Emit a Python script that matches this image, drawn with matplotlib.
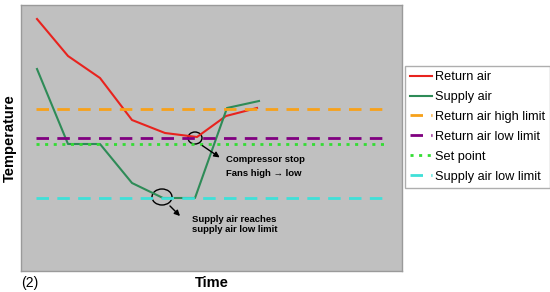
import matplotlib.pyplot as plt
from matplotlib.patches import Ellipse

plt.rcParams['font.family'] = ['Liberation Sans', 'DejaVu Sans']

# time axis and temperatures (arbitrary units)
return_t = [37, 68, 100, 132, 165, 197, 226, 257]
return_v = [252, 215, 193, 151, 138, 134, 155, 163]
supply_t = [37, 68, 100, 132, 163, 195, 227, 259]
supply_v = [202, 127, 127, 88, 73, 73, 163, 170]

limit_start, limit_end = 36, 387
return_high = 162
return_low = 133
set_point = 127
supply_low = 73

labels = ["Return air", "Supply air", "Return air high limit",
          "Return air low limit", "Set point", "Supply air low limit"]

fig = plt.figure(figsize=(5.5, 2.92), dpi=100)
ax = fig.add_axes([21/550, 21/292, 381/550, 266/292])
ax.set_facecolor("#c0c0c0")
for s in ax.spines.values():
    s.set_color("#9a9a9a")
    s.set_linewidth(1)

l1, = ax.plot(return_t, return_v, color="#e8231e", lw=1.5)
l2, = ax.plot(supply_t, supply_v, color="#2e8b57", lw=1.5)
l3, = ax.plot([limit_start, limit_end], [return_high]*2, color="#f7a11a", lw=2, dashes=(4.5, 3))
l4, = ax.plot([limit_start, limit_end], [return_low]*2, color="#800080", lw=2, dashes=(4.5, 3))
l5, = ax.plot([limit_start, limit_end], [set_point]*2, color="#33dd33", lw=2, dashes=(1.1, 2.0))
l6, = ax.plot([limit_start, limit_end], [supply_low]*2, color="#40e0d8", lw=2, dashes=(4.5, 3))

ax.set_xlim(21, 402)
ax.set_ylim(0, 266)
ax.set_xticks([])
ax.set_yticks([])

# annotations
ax.add_patch(Ellipse((195, 133), 14, 12, fill=False, ec="black", lw=1))
ax.add_patch(Ellipse((162, 74), 20, 16, fill=False, ec="black", lw=1))
ax.annotate("", xy=(222, 112), xytext=(200, 127),
            arrowprops=dict(arrowstyle="-|>", color="black", lw=1, mutation_scale=8))
ax.annotate("", xy=(182, 53), xytext=(168, 67),
            arrowprops=dict(arrowstyle="-|>", color="black", lw=1, mutation_scale=8))
ax.text(226, 111, "Compressor stop", fontsize=6.8, fontweight="bold", va="center")
ax.text(226, 98, "Fans high \u2192 low", fontsize=6.8, fontweight="bold", va="center")
ax.text(192, 52, "Supply air reaches", fontsize=6.8, fontweight="bold", va="center")
ax.text(192, 41, "supply air low limit", fontsize=6.8, fontweight="bold", va="center")

fig.text(212/550, 1 - 283/292, "Time", fontsize=10.5, fontweight="bold", ha="center", va="center")
fig.text(21/550, 1 - 283/292, "(2)", fontsize=10, ha="left", va="center")
fig.text(10/550, 1 - 138/292, "Temperature", fontsize=10.5, fontweight="bold",
         rotation=90, ha="center", va="center")

leg = fig.legend([l1, l2, l3, l4, l5, l6], labels, loc="upper left",
                 bbox_to_anchor=(405/550, 1 - 66/292), fontsize=9.2,
                 handlelength=1.75, handletextpad=0.2, labelspacing=0.62,
                 borderpad=0.4, borderaxespad=0, fancybox=False, frameon=True)
leg.get_frame().set_edgecolor("#9a9a9a")
leg.get_frame().set_linewidth(1)

fig.savefig("out.png", dpi=100)
